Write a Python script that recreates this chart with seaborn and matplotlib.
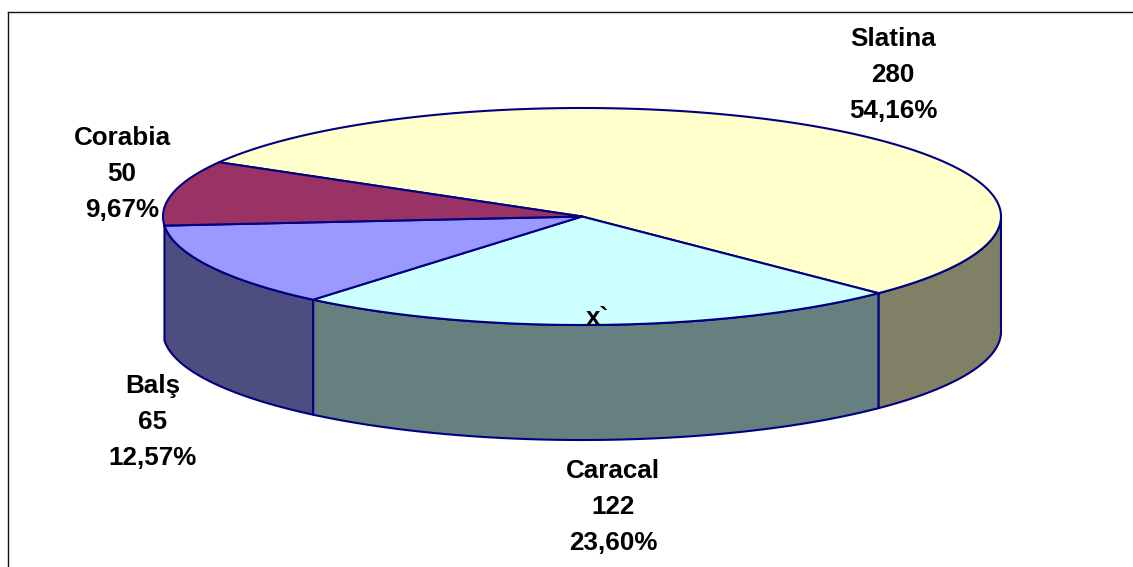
import numpy as np
import matplotlib
matplotlib.use("Agg")
import matplotlib.pyplot as plt
import seaborn as sns

# Data
cities = ["Slatina", "Caracal", "Balş", "Corabia"]
counts = [280, 122, 65, 50]
percents = ["54,16%", "23,60%", "12,57%", "9,67%"]

# Styles and layout (pixel units of the 1133x567 picture)
top_colors = ["#FFFFCC", "#CCFFFF", "#9999FF", "#993366"]
side_colors = ["#808066", "#668080", "#4D4D80", "#4D1A33"]
edge = "#000080"
start_angle = 150.0
cx, cy, rx, ry, depth = 582.0, 216.5, 419.0, 108.5, 115.0
label_xy = [(893, 75), (613, 507), (153, 422), (122, 174)]
W, H = 1133, 567
frame_left, frame_top = 8, 11.5

sns.set_theme(style="white")
plt.rcParams["font.family"] = ["Liberation Sans", "DejaVu Sans"]

fig = plt.figure(figsize=(W / 100, H / 100), dpi=100, facecolor="white")
ax = fig.add_axes([frame_left / W, 0, 1 - frame_left / W, 1 - frame_top / H])
ax.set_xlim(frame_left, W)
ax.set_ylim(H, frame_top)
ax.set_xticks([])
ax.set_yticks([])
sns.despine(ax=ax, top=False, left=False, right=True, bottom=True)
for s in ("top", "left"):
    ax.spines[s].set_color("#111111")
    ax.spines[s].set_linewidth(1.0)


def arc(a0, a1, dy=0.0):
    t = np.radians(np.linspace(a0, a1, 240))
    return cx + rx * np.cos(t), cy - ry * np.sin(t) + dy


sweeps = 360.0 * np.array(counts, dtype=float) / sum(counts)
ends = start_angle - np.cumsum(sweeps)
starts = ends + sweeps

# Outer walls: only the part of a slice on the near half of the ellipse
for a0, a1, col in zip(starts, ends, side_colors):
    if np.sin(np.radians(a1)) >= 0:
        continue
    a0 = min(a0, 0.0)
    x, y = arc(a0, a1)
    xb, yb = arc(a1, a0, depth)
    ax.fill(np.r_[x, xb], np.r_[y, yb], facecolor=col, edgecolor=edge,
            linewidth=1.5, joinstyle="round", zorder=2)

# Top faces
for a0, a1, col in zip(starts, ends, top_colors):
    x, y = arc(a0, a1)
    ax.fill(np.r_[cx, x], np.r_[cy, y], facecolor=col, edgecolor=edge,
            linewidth=1.5, joinstyle="round", zorder=3)

# Labels
for name, n, pct, (lx, ly) in zip(cities, counts, percents, label_xy):
    ax.text(lx, ly, f"{name}\n{n}\n{pct}", ha="center", va="center",
            multialignment="center", fontsize=18.7, fontweight="bold",
            color="black", linespacing=1.63, zorder=5)
ax.text(597, 318, "x`", ha="center", va="center", fontsize=18.7,
        fontweight="bold", color="black", zorder=5)

fig.savefig("out.png", dpi=100, facecolor="white")
